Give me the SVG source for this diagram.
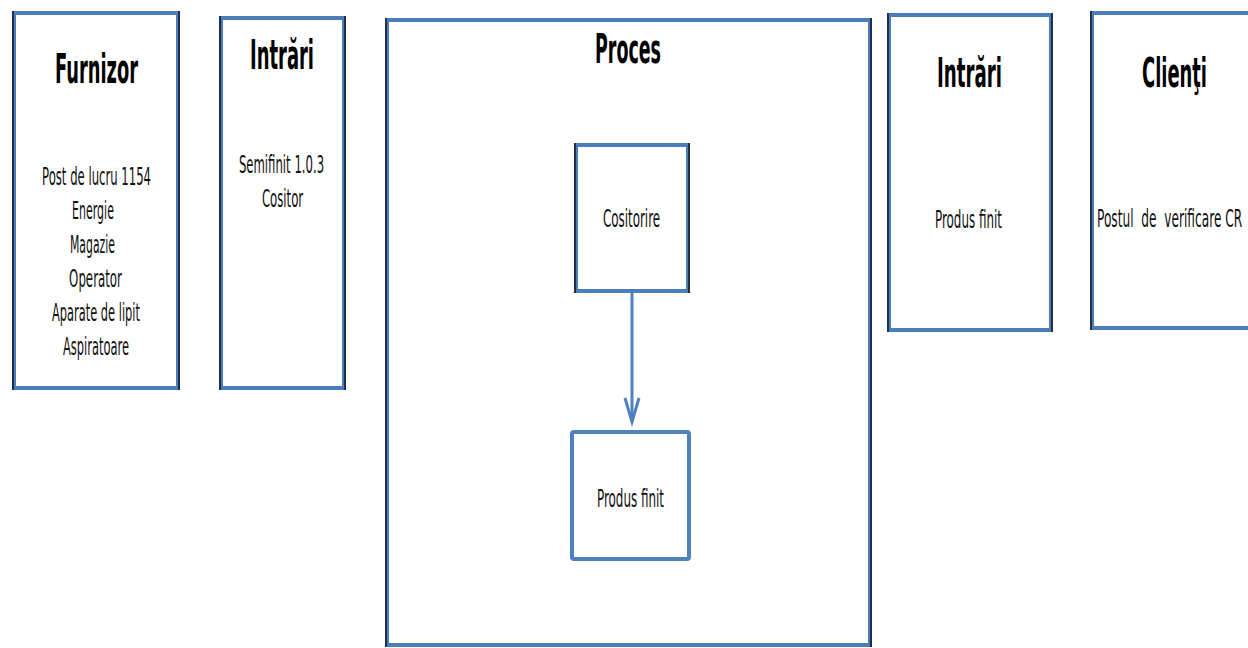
<svg xmlns="http://www.w3.org/2000/svg" width="1248" height="648" viewBox="0 0 1248 648">
  <style>
    .frame { fill: #ffffff; stroke: #4a7ebb; stroke-width: 4; }
    .side { stroke: #1f2f4a; stroke-width: 2; }
    .plain { fill: #ffffff; stroke: #4f81bd; stroke-width: 4; }
    .title { font-family: "DejaVu Sans", "Liberation Sans", sans-serif; font-weight: bold; font-size: 40px; fill: #000000; text-anchor: middle; }
    .body { font-family: "DejaVu Sans", "Liberation Sans", sans-serif; font-size: 25px; fill: #111111; text-anchor: middle; }
    .left { text-anchor: start; }
    .link { stroke: #4f81bd; stroke-width: 3; fill: none; }
  </style>
  <rect width="1248" height="648" fill="#ffffff"/>

  <!-- Supplier column (condensed lettering: headings scaled 0.5, body 0.55) -->
  <g id="furnizor">
    <rect class="frame" x="14" y="13" width="164" height="375"/>
    <line class="side" x1="13" y1="11" x2="13" y2="390"/>
    <line class="side" x1="179" y1="11" x2="179" y2="390"/>
    <text class="title" transform="translate(96.5 83) scale(0.5 1)" textLength="166" lengthAdjust="spacingAndGlyphs">Furnizor</text>
    <text class="body" transform="translate(96.5 185) scale(0.55 1)" textLength="198" lengthAdjust="spacingAndGlyphs">Post de lucru 1154</text>
    <text class="body" transform="translate(93 219) scale(0.55 1)" textLength="76" lengthAdjust="spacingAndGlyphs">Energie</text>
    <text class="body" transform="translate(92.5 253) scale(0.55 1)" textLength="82" lengthAdjust="spacingAndGlyphs">Magazie</text>
    <text class="body" transform="translate(95.5 287) scale(0.55 1)" textLength="96" lengthAdjust="spacingAndGlyphs">Operator</text>
    <text class="body" transform="translate(96 321) scale(0.55 1)" textLength="160" lengthAdjust="spacingAndGlyphs">Aparate de lipit</text>
    <text class="body" transform="translate(96 355) scale(0.55 1)" textLength="120" lengthAdjust="spacingAndGlyphs">Aspiratoare</text>
  </g>

  <!-- Inputs column -->
  <g id="intrari-1">
    <rect class="frame" x="221" y="18" width="123" height="370"/>
    <line class="side" x1="220" y1="16" x2="220" y2="390"/>
    <line class="side" x1="345" y1="16" x2="345" y2="390"/>
    <text class="title" transform="translate(282 69) scale(0.5 1)" textLength="128" lengthAdjust="spacingAndGlyphs">Intrări</text>
    <text class="body" transform="translate(281.5 173) scale(0.55 1)" textLength="155" lengthAdjust="spacingAndGlyphs">Semifinit 1.0.3</text>
    <text class="body" transform="translate(282.5 207) scale(0.55 1)" textLength="75" lengthAdjust="spacingAndGlyphs">Cositor</text>
  </g>

  <!-- Process column -->
  <g id="proces">
    <rect class="frame" x="387" y="20" width="483" height="625"/>
    <line class="side" x1="386" y1="18" x2="386" y2="647"/>
    <line class="side" x1="871" y1="18" x2="871" y2="647"/>
    <text class="title" transform="translate(628 63) scale(0.5 1)" textLength="132" lengthAdjust="spacingAndGlyphs">Proces</text>
  </g>

  <g id="cositorire">
    <rect class="frame" x="576" y="145" width="112" height="146"/>
    <line class="side" x1="575" y1="143" x2="575" y2="293"/>
    <line class="side" x1="689" y1="143" x2="689" y2="293"/>
    <text class="body" transform="translate(631.5 227) scale(0.55 1)" textLength="104" lengthAdjust="spacingAndGlyphs">Cositorire</text>
  </g>

  <g id="produs-finit-proces">
    <rect class="plain" x="572" y="432" width="117" height="127" rx="2"/>
    <text class="body" transform="translate(630.5 507) scale(0.55 1)" textLength="122" lengthAdjust="spacingAndGlyphs">Produs finit</text>
  </g>

  <!-- Outputs column -->
  <g id="intrari-2">
    <rect class="frame" x="889" y="15" width="162" height="315"/>
    <line class="side" x1="888" y1="13" x2="888" y2="332"/>
    <line class="side" x1="1052" y1="13" x2="1052" y2="332"/>
    <text class="title" transform="translate(969.5 87) scale(0.5 1)" textLength="130" lengthAdjust="spacingAndGlyphs">Intrări</text>
    <text class="body" transform="translate(968.5 228) scale(0.55 1)" textLength="122" lengthAdjust="spacingAndGlyphs">Produs finit</text>
  </g>

  <!-- Customers column -->
  <g id="clienti">
    <rect class="frame" x="1092" y="13" width="170" height="315"/>
    <line class="side" x1="1091" y1="11" x2="1091" y2="330"/>
    <text class="title" transform="translate(1174.5 87) scale(0.5 1)" textLength="130" lengthAdjust="spacingAndGlyphs">Clienţi</text>
    <text class="body left" transform="translate(1097 227) scale(0.55 1)" xml:space="preserve" textLength="264" lengthAdjust="spacingAndGlyphs">Postul  de  verificare CR</text>
  </g>

  <!-- Connectors -->
  <g id="connectors">
    <line class="link" x1="632" y1="293" x2="632" y2="422"/>
    <polyline class="link" points="625,398 632,422 639,398"/>
  </g>
</svg>
